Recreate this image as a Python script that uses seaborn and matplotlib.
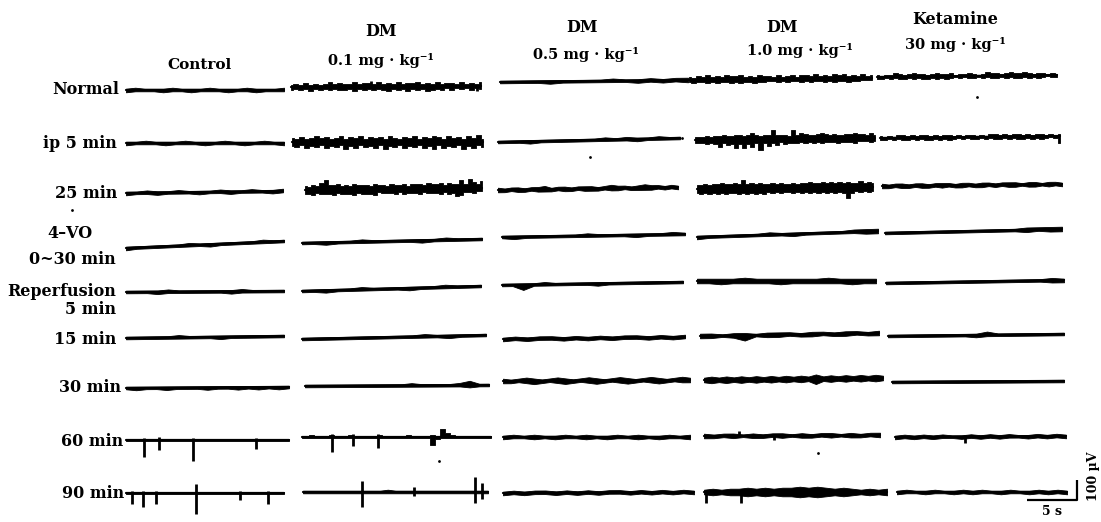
import numpy as np
import pandas as pd
import matplotlib
matplotlib.use("Agg")
import matplotlib.pyplot as plt
import seaborn as sns

# column headings
col_titles = ["DM", "DM", "DM", "Ketamine"]
col_doses = ["0.1 mg · kg⁻¹", "0.5 mg · kg⁻¹", "1.0 mg · kg⁻¹", "30 mg · kg⁻¹"]
control_title = "Control"

# row labels (two-line entries are split in two)
row_labels = ["Normal", "ip 5 min", "25 min", "4–VO", "0~30 min",
              "Reperfusion", "5 min", "15 min", "30 min", "60 min", "90 min"]

# EEG envelopes: for every trace a pair of strings,
# one digit (base 36, in px) per sample for the excursion above / below the line
normal = [
    ("010001000100010001", "100010010001001000"),
    ("1213121231211312213121312231213122131213", "2121312121221312121231213121321213121312"),
    ("0000000001001011", "0000100000010101"),
    ("2132312132231213221312312213121323121312", "1211212112121121211212112121121211212111"),
    ("1011210121101211201121012110121121011010", "1101011010110101101011010110101101011011"),
]
ip5 = [
    ("00100010001000100", "10001000100010001"),
    ("3242353423524352434253243524354253425362", "3425342534263524352634253425362534263524"),
    ("000000000010100100", "000100000000010000"),
    ("222322232233235323383332835322343232233433242", "222323624373736292635243332323232223222322232"),
    ("1010110101101011010110101101011010110101", "1101011010110101101011010110101101011016"),
]
min25 = [
    ("0010010001001001", "1001000100100010"),
    ("32436833423243332433243342333243342433738536", "33423334233342333423334243334233342436533422"),
    ("1011011201101110121101211010", "1101101110110111011011110101"),
    ("3343434334373434334343343434334343434335343", "3434343433434343434343343434343434349434343"),
    ("1011011011101101101110110110", "1101101101011011010110110101"),
]
vo = [
    ("0000001000000100", "1000000010000000"),
    ("0000010000001000", "0010000000100000"),
    ("0000000100000010", "0100000000010000"),
    ("0000001000000111", "1000000010000011"),
    ("0000000000001111", "0000000000001011"),
]
reperf = [
    ("0000100000010000", "0001000000100000"),
    ("0000010000001000", "0010000001000000"),
    ("000010000000000000", "004000000100000000"),
    ("1111211111121111", "1121111211111211"),
    ("0000000000000010", "0000000000000011"),
]
min15 = [
    ("0000010000000000", "0000000001000000"),
    ("0000000000100000", "0000000000001000"),
    ("0101101010110101", "1010010101001010"),
    ("11011011101101101", "11014011011011011"),
    ("00000000020000000", "00000000100000000"),
]
min30 = [
    ("00000000000000000", "01001000100101010"),
    ("00000000000100001300", "00000000000000000100"),
    ("1012101210121012101210121", "1101210121012101210121011"),
    ("1212121212121213121212121", "1212121212121214121212121"),
    ("00000000000000000", "00000000000000000"),
]
min60 = [
    ("0000000000000000", "0000000000000000"),
    ("0010001000100000100000100001073100000000", "0000000000000000000000000007100000000000"),
    ("0101001010010100101", "1001010010100101001"),
    ("1011010110101101011", "1101011010110101101"),
    ("0101010010101001010", "1010100101010010101"),
]
min90 = [
    ("0000000000000000", "0000000000000000"),
    ("0000000000010000000000000", "0000000000000000000000000"),
    ("0101101010110101010", "1010010101001010101"),
    ("1212232323343432321212", "1212232323343432321212"),
    ("0100100101001001010", "1001001010010010101"),
]
traces = [normal, ip5, min25, vo, reperf, min15, min30, min60, min90]

# sharp spikes: (fraction along trace, px up, px down)
spikes = {
    (0, 1): [(0.42, 4, 0), (0.98, 0, 4)],
    (7, 0): [(0.11, 1, 16), (0.20, 2, 9), (0.41, 1, 20), (0.80, 1, 8)],
    (7, 1): [(0.16, 2, 14), (0.27, 2, 8), (0.40, 2, 10)],
    (7, 3): [(0.20, 4, 0), (0.40, 0, 3)],
    (7, 4): [(0.41, 0, 5)],
    (8, 0): [(0.04, 1, 10), (0.11, 1, 13), (0.19, 1, 10), (0.44, 8, 20), (0.72, 1, 6), (0.90, 1, 10)],
    (8, 1): [(0.32, 10, 14), (0.60, 4, 3), (0.93, 14, 10), (0.97, 8, 6)],
    (8, 3): [(0.01, 0, 10), (0.20, 0, 10)],
}

# specks of dust in the scan
speck_x = [977, 590, 72, 439, 818, 682]
speck_y = [97, 157, 210, 461, 453, 138]

# ---- layout (image pixels) ----
x_start = [[126, 291, 500, 689, 877], [126, 292, 498, 695, 880], [126, 305, 498, 697, 882],
           [126, 302, 502, 697, 885], [126, 302, 502, 697, 886], [126, 302, 503, 700, 888],
           [126, 305, 503, 704, 892], [126, 302, 503, 704, 895], [126, 303, 503, 704, 897]]
x_end = [[284, 481, 688, 872, 1057], [284, 483, 680, 875, 1060], [283, 482, 678, 873, 1062],
         [284, 482, 685, 878, 1062], [284, 481, 683, 876, 1064], [284, 486, 685, 879, 1064],
         [289, 489, 690, 883, 1064], [289, 491, 690, 880, 1066], [284, 488, 694, 887, 1067]]
y_left = [[90, 87, 82, 80, 77], [143, 142, 142, 140, 138], [193, 190, 190, 189, 186],
          [248, 243, 237, 237, 233], [292, 291, 285, 281, 283], [338, 339, 339, 336, 336],
          [388, 386, 381, 380, 382], [440, 437, 437, 436, 437], [493, 492, 493, 492, 492]]
y_right = [[90, 86, 80, 78, 75], [143, 142, 138, 138, 136], [191, 188, 187, 187, 184],
           [241, 239, 234, 231, 229], [291, 286, 282, 281, 280], [336, 335, 337, 333, 334],
           [387, 385, 380, 378, 381], [440, 437, 437, 435, 436], [493, 492, 492, 492, 492]]
half_w = 1.3

label_pos = [(119, 90, "right"), (117, 143, "right"), (117, 193, "right"), (70, 233, "center"),
             (116, 259, "right"), (116, 291, "right"), (116, 310, "right"), (116, 339, "right"),
             (121, 388, "right"), (123, 441, "right"), (124, 494, "right")]
title_pos = [(381, 31), (582, 27), (782, 28), (955, 20)]
dose_pos = [(381, 60), (586, 55), (800, 50), (955, 45)]

sns.set_theme(style="white")
plt.rcParams['font.family'] = ['DejaVu Serif', 'DejaVu Sans']
plt.rcParams['text.color'] = 'black'

fig = plt.figure(figsize=(11.01, 5.22), dpi=100)
ax = fig.add_axes([0, 0, 1, 1])

rows = []
for r, row in enumerate(traces):
    for c, (up_s, dn_s) in enumerate(row):
        n = min(len(up_s), len(dn_s))
        up = np.array([int(ch, 36) for ch in up_s[:n]], float)
        dn = np.array([int(ch, 36) for ch in dn_s[:n]], float)
        xs = np.linspace(x_start[r][c], x_end[r][c], n)
        base = np.linspace(y_left[r][c], y_right[r][c], n)
        top = base - half_w - up
        bot = base + half_w + dn
        # densely read (noisy) traces get blocky edges like the jagged pen trace
        spacing = (x_end[r][c] - x_start[r][c]) / (n - 1)
        ax.fill_between(xs, top, bot, step="mid" if spacing < 6 else None,
                        color="black", linewidth=0.6)
        rows.append(pd.DataFrame({"x": xs, "y": base, "trace": f"{r}-{c}"}))
        for frac, a_up, a_dn in spikes.get((r, c), []):
            sx = x_start[r][c] + frac * (x_end[r][c] - x_start[r][c])
            sy = y_left[r][c] + frac * (y_right[r][c] - y_left[r][c])
            ax.vlines(sx, sy - half_w - a_up, sy + half_w + a_dn, color="black", lw=2.0)

df = pd.concat(rows, ignore_index=True)
sns.lineplot(data=df, x="x", y="y", units="trace", estimator=None, sort=False,
             color="black", linewidth=1.6, ax=ax, legend=False)
ax.scatter(speck_x, speck_y, s=4, color="black", linewidths=0)

# scale bar: 100 uV vertical, 5 s horizontal
ax.plot([1027, 1077, 1077], [500, 500, 480], color="black", lw=1.6, solid_capstyle="butt")
ax.text(1093, 476, "100 µV", rotation=90, ha="center", va="center", fontsize=9, fontweight="bold")
ax.text(1052, 505, "5 s", ha="center", va="top", fontsize=9, fontweight="bold")

for txt, (x, y, ha) in zip(row_labels, label_pos):
    ax.text(x, y, txt, ha=ha, va="center", fontsize=11.5, fontweight="bold")
ax.text(200, 65, control_title, ha="center", va="center", fontsize=11, fontweight="bold")
for txt, (x, y) in zip(col_titles, title_pos):
    ax.text(x, y, txt, ha="center", va="center", fontsize=11.5, fontweight="bold")
for txt, (x, y) in zip(col_doses, dose_pos):
    ax.text(x, y, txt, ha="center", va="center", fontsize=10.5, fontweight="bold")

ax.set_xlim(0, 1101)
ax.set_ylim(522, 0)
ax.axis("off")
fig.savefig("out.png", dpi=100, facecolor="white")
